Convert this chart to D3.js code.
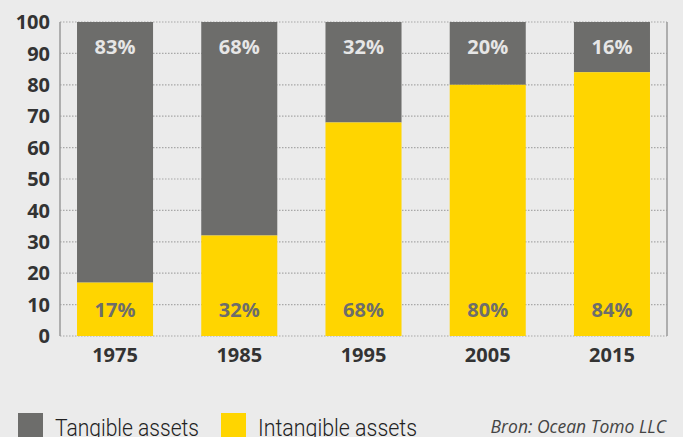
<!DOCTYPE html>
<html>
<head>
<meta charset="utf-8">
<script src="https://cdn.jsdelivr.net/npm/d3@7"></script>
<style>
  body { margin: 0; background: #ebebeb; }
  svg { display: block; }
</style>
</head>
<body>
<script>
const years = ['1975', '1985', '1995', '2005', '2015'];
const intangible = [17, 32, 68, 80, 84];
const tangible = [83, 68, 32, 20, 16];
const yTicks = [0, 10, 20, 30, 40, 50, 60, 70, 80, 90, 100];
const legendItems = ['Tangible assets', 'Intangible assets'];
const source = 'Bron: Ocean Tomo LLC';

const width = 683, height = 437;
const grey = '#6d6d6b', yellow = '#ffd500';
const font = '"Open Sans", "Liberation Sans", sans-serif';

const svg = d3.select('body').append('svg')
  .attr('width', width)
  .attr('height', height);

svg.append('rect').attr('width', width).attr('height', height).attr('fill', '#ebebeb');

const x = d3.scaleBand()
  .domain(years)
  .range([60, 667])
  .paddingInner(0.388)
  .paddingOuter(0.137);

const y = d3.scaleLinear()
  .domain([0, 100])
  .range([336, 22]);

// dotted grid
svg.append('g')
  .selectAll('line')
  .data(yTicks)
  .join('line')
  .attr('x1', 60)
  .attr('x2', 667)
  .attr('y1', d => y(d))
  .attr('y2', d => y(d))
  .attr('stroke', '#a8a8a8')
  .attr('stroke-width', 1.2)
  .attr('stroke-dasharray', '1.5,1.5');

// tick labels
svg.append('g')
  .selectAll('text')
  .data(yTicks)
  .join('text')
  .attr('x', 50)
  .attr('y', d => y(d))
  .attr('dy', '0.36em')
  .attr('text-anchor', 'end')
  .attr('font-family', font)
  .attr('font-weight', 700)
  .attr('font-size', 20)
  .attr('fill', '#333')
  .text(d => d);

const rows = years.map((yr, i) => ({year: yr, low: intangible[i], high: tangible[i]}));

const bars = svg.append('g')
  .selectAll('g')
  .data(rows)
  .join('g');

bars.append('rect')
  .attr('x', d => x(d.year))
  .attr('width', x.bandwidth())
  .attr('y', d => y(d.low + d.high))
  .attr('height', d => y(d.low) - y(d.low + d.high))
  .attr('fill', grey);

bars.append('rect')
  .attr('x', d => x(d.year))
  .attr('width', x.bandwidth())
  .attr('y', d => y(d.low))
  .attr('height', d => y(0) - y(d.low))
  .attr('fill', yellow);

bars.append('text')
  .attr('x', d => x(d.year) + x.bandwidth() / 2)
  .attr('y', y(92))
  .attr('dy', '0.36em')
  .attr('text-anchor', 'middle')
  .attr('font-family', font)
  .attr('font-weight', 700)
  .attr('font-size', 20)
  .attr('fill', '#e6e6e6')
  .text(d => d.high + '%');

bars.append('text')
  .attr('x', d => x(d.year) + x.bandwidth() / 2)
  .attr('y', y(8.3))
  .attr('dy', '0.36em')
  .attr('text-anchor', 'middle')
  .attr('font-family', font)
  .attr('font-weight', 700)
  .attr('font-size', 20)
  .attr('fill', '#6d6d6b')
  .text(d => d.low + '%');

// axis frame lines
svg.append('line')
  .attr('x1', 60).attr('x2', 60)
  .attr('y1', y(100)).attr('y2', y(0))
  .attr('stroke', '#9a9a9a').attr('stroke-width', 1.5);
svg.append('line')
  .attr('x1', 667).attr('x2', 667)
  .attr('y1', y(100)).attr('y2', y(0))
  .attr('stroke', '#9a9a9a').attr('stroke-width', 1.5);

// year labels
svg.append('g')
  .selectAll('text')
  .data(years)
  .join('text')
  .attr('x', d => x(d) + x.bandwidth() / 2)
  .attr('y', 362)
  .attr('text-anchor', 'middle')
  .attr('font-family', font)
  .attr('font-weight', 700)
  .attr('font-size', 20)
  .attr('fill', '#333')
  .text(d => d);

// legend (runs off the bottom edge, as in the original)
const legendX = [18, 221];
const legendW = [144, 159];
const legendColors = [grey, yellow];
const legend = svg.append('g')
  .selectAll('g')
  .data(legendItems)
  .join('g')
  .attr('transform', (d, i) => `translate(${legendX[i]},413)`);

legend.append('rect')
  .attr('width', 25)
  .attr('height', 30)
  .attr('fill', (d, i) => legendColors[i]);

legend.append('text')
  .attr('x', 37)
  .attr('y', 23)
  .attr('font-family', 'Roboto, sans-serif')
  .attr('font-weight', 300)
  .attr('font-size', 24)
  .attr('textLength', (d, i) => legendW[i])
  .attr('lengthAdjust', 'spacingAndGlyphs')
  .attr('fill', '#222')
  .text(d => d);

svg.append('text')
  .attr('x', 666)
  .attr('y', 433)
  .attr('text-anchor', 'end')
  .attr('font-family', font)
  .attr('font-style', 'italic')
  .attr('font-size', 17.5)
  .attr('fill', '#444')
  .text(source);
</script>
</body>
</html>
